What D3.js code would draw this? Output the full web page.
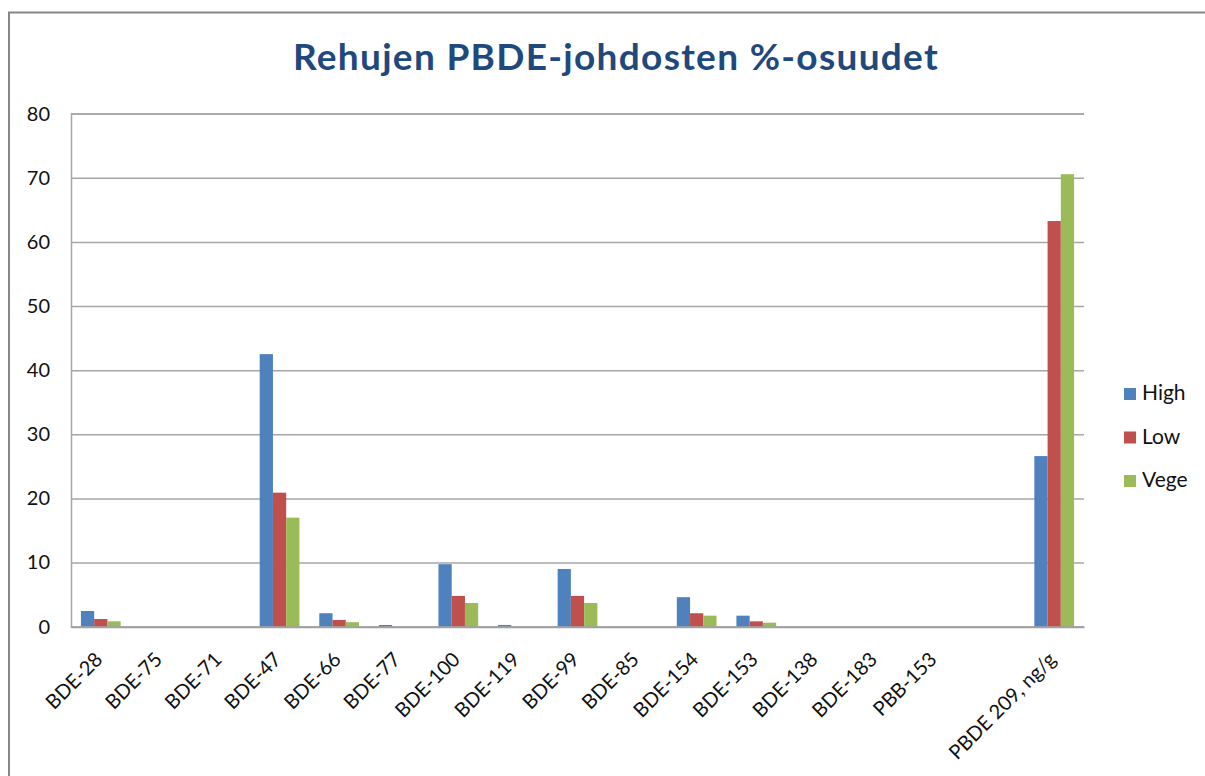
<!DOCTYPE html>
<html>
<head>
<meta charset="utf-8">
<script src="https://cdn.jsdelivr.net/npm/d3@7"></script>
<style>
  body { margin: 0; background: #fff; }
  svg { display: block; }
  text { font-family: Lato, "Open Sans", sans-serif; }
</style>
</head>
<body>
<svg id="chart" width="1205" height="776"></svg>
<script>
// Categories on the x axis (one blank slot before PBDE 209, as in the original)
const categories = ["BDE-28", "BDE-75", "BDE-71", "BDE-47", "BDE-66", "BDE-77", "BDE-100",
  "BDE-119", "BDE-99", "BDE-85", "BDE-154", "BDE-153", "BDE-138", "BDE-183", "PBB-153",
  "", "PBDE 209, ng/g"];

const seriesNames = ["High", "Low", "Vege"];
const seriesColors = ["#4F81BD", "#C0504D", "#9BBB59"];

// values (%)
const highValues = [2.45, 0, 0, 42.5, 2.1, 0.27, 9.75, 0.27, 9.0, 0, 4.6, 1.72, 0, 0, 0, null, 26.6];
const lowValues  = [1.2, 0, 0, 20.9, 1.05, 0, 4.8, 0, 4.8, 0, 2.1, 0.84, 0, 0, 0, null, 63.25];
const vegeValues = [0.84, 0, 0, 17.0, 0.7, 0, 3.7, 0, 3.7, 0, 1.72, 0.63, 0, 0, 0, null, 70.55];

const yTicks = [0, 10, 20, 30, 40, 50, 60, 70, 80];
const chartTitle = "Rehujen PBDE-johdosten %-osuudet";

// Set up sizing constants
const margin = {top: 113.6, left: 71, right: 1084, bottom: 626.7};

const svg = d3.select("svg#chart");

// outer chart border (runs off the right and bottom edges)
svg.append("rect")
  .attr("x", 9)
  .attr("y", 12.5)
  .attr("width", 1220)
  .attr("height", 800)
  .attr("fill", "#fff")
  .attr("stroke", "#878787")
  .attr("stroke-width", 2);

// Create the scales
const x0 = d3.scaleBand()
  .domain(categories)
  .range([margin.left, margin.right])
  .paddingInner(0)
  .paddingOuter(0);

const x1 = d3.scaleBand()
  .domain(seriesNames)
  .range([0, x0.bandwidth()])
  .paddingInner(0)
  .paddingOuter(0.75);

const yScale = d3.scaleLinear()
  .domain([0, 80])
  .range([margin.bottom, margin.top]);

const color = d3.scaleOrdinal().domain(seriesNames).range(seriesColors);

// gridlines + y labels
const yAxis = d3.axisLeft(yScale)
  .tickValues(yTicks)
  .tickSize(-(margin.right - margin.left))
  .tickPadding(21)
  .tickFormat(d3.format("d"));

const yAxisG = svg.append("g")
  .attr("id", "yAxisG")
  .attr("transform", "translate(" + margin.left + ",0)")
  .call(yAxis);

yAxisG.select(".domain").attr("stroke", "#a6a6a6").attr("stroke-width", 1.5);
yAxisG.selectAll(".tick line").attr("stroke", "#a6a6a6").attr("stroke-width", 1.5);
yAxisG.selectAll(".tick text")
  .style("font-size", "20px")
  .style("fill", "#111");

// bars
const rows = categories.map((c, i) => ({
  cat: c,
  values: [
    {key: "High", v: highValues[i]},
    {key: "Low", v: lowValues[i]},
    {key: "Vege", v: vegeValues[i]}
  ]
}));

const groups = svg.append("g")
  .selectAll("g.group")
  .data(rows)
  .enter()
  .append("g")
  .attr("class", "group")
  .attr("transform", d => "translate(" + x0(d.cat) + ",0)");

groups.selectAll("rect.bar")
  .data(d => d.values.filter(v => v.v != null && v.v > 0))
  .enter()
  .append("rect")
  .attr("class", "bar")
  .attr("x", d => x1(d.key))
  .attr("y", d => yScale(d.v))
  .attr("width", x1.bandwidth())
  .attr("height", d => yScale(0) - yScale(d.v))
  .attr("fill", d => color(d.key));

// x axis line
const xAxis = d3.axisBottom(x0).tickSize(0).tickFormat(d => d);
const xAxisG = svg.append("g")
  .attr("id", "xAxisG")
  .attr("transform", "translate(0," + margin.bottom + ")")
  .call(xAxis);

xAxisG.select(".domain").attr("stroke", "#a0a0a0").attr("stroke-width", 2);
xAxisG.selectAll(".tick text")
  .style("font-size", "20px")
  .style("fill", "#111")
  .style("text-anchor", "end")
  .attr("dy", 0)
  .attr("y", 0)
  .attr("transform", "translate(3,34) rotate(-45)");

// title
svg.append("text")
  .attr("x", 616)
  .attr("y", 69.5)
  .attr("text-anchor", "middle")
  .style("font-size", "37px")
  .style("letter-spacing", "1.3px")
  .style("font-weight", "bold")
  .style("fill", "#1F497D")
  .text(chartTitle);

// legend
const legend = svg.append("g")
  .selectAll("g.legend")
  .data(seriesNames)
  .enter()
  .append("g")
  .attr("class", "legend")
  .attr("transform", (d, i) => "translate(1124," + (394 + i * 43.5) + ")");

legend.append("rect")
  .attr("x", 0)
  .attr("y", -6)
  .attr("width", 12)
  .attr("height", 12)
  .attr("fill", d => color(d));

legend.append("text")
  .attr("x", 18)
  .attr("y", 6)
  .style("font-size", "21px")
  .style("fill", "#111")
  .text(d => d);
</script>
</body>
</html>
